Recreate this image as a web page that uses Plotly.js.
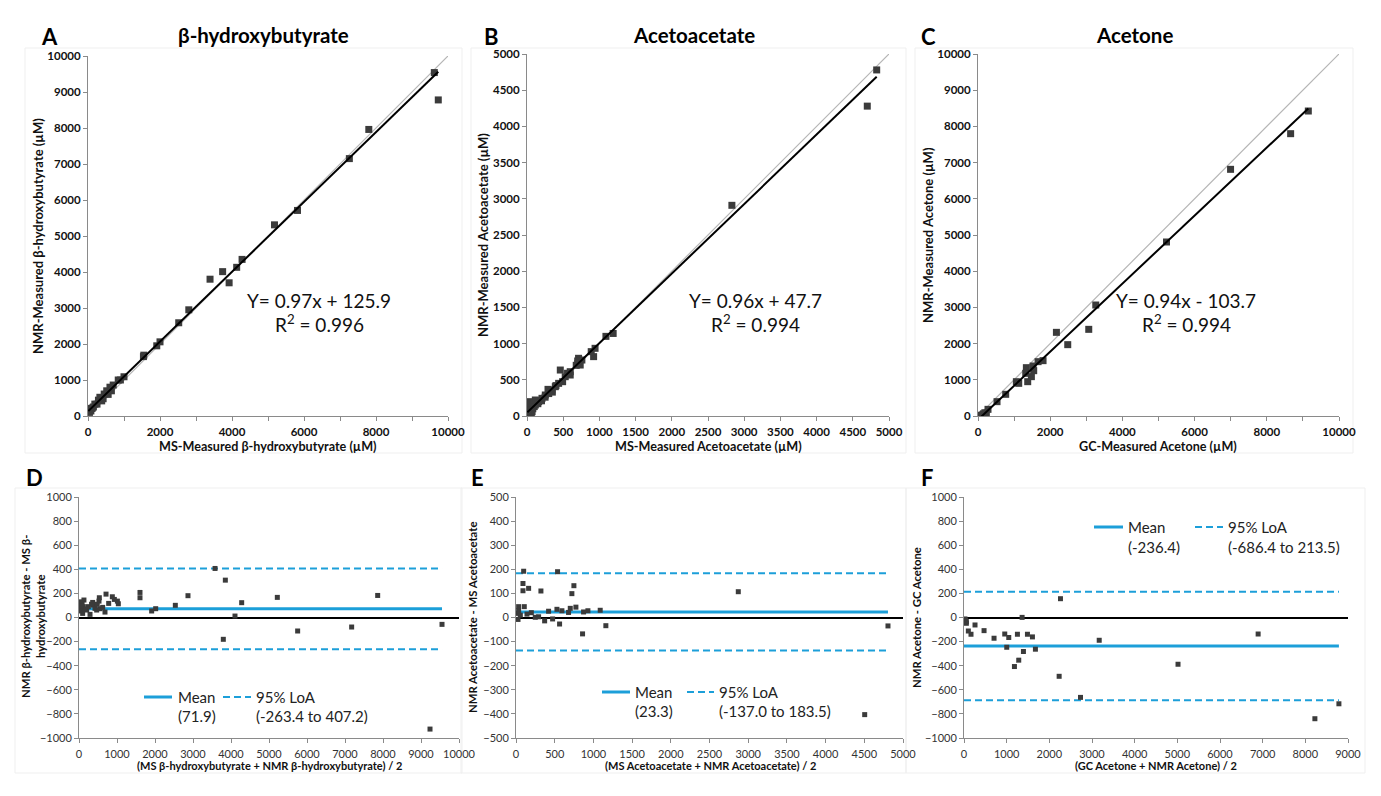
<!DOCTYPE html>
<html>
<head>
<meta charset="utf-8">
<script src="https://cdn.plot.ly/plotly-3.0.1.min.js"></script>
<style>html,body{margin:0;padding:0;background:#fff;}#chart{width:1381px;height:796px;}</style>
</head>
<body>
<div id="chart"></div>
<script>
// ---------------- DATA ----------------
// Panel A: β-hydroxybutyrate, MS vs NMR (µM)
const msBHB  = [9620, 9730, 7800, 7260, 5820, 5180, 4280, 4130, 3740, 3920, 3390, 2800, 2520, 2000, 1910, 1550, 1540, 1000, 840, 700, 610, 520, 450, 330, 290, 190, 100, 10, 20, 40, 60, 80, 50, 120, 150, 250, 380, 420, 560, 650, 900];
const nmrBHB = [9540, 8780, 7960, 7150, 5710, 5310, 4350, 4130, 4010, 3700, 3800, 2950, 2590, 2060, 1950, 1690, 1650, 1090, 1000, 860, 800, 700, 610, 520, 440, 330, 210, 120, 150, 100, 180, 140, 200, 220, 250, 330, 420, 480, 600, 700, 1000];
// Panel B: Acetoacetate, MS vs NMR (µM)
const msAcAc  = [4830, 4700, 2830, 1190, 1090, 940, 920, 887, 758, 712, 703, 735, 597, 528, 597, 460, 492, 437, 391, 345, 290, 253, 207, 161, 115, 115, 32, 46, 14, 10, 20, 30, 50, 60, 80, 100, 5, 40, 70, 150, 200, 250, 300, 350, 400, 680, 700, 560];
const nmrAcAc = [4780, 4280, 2910, 1140, 1100, 935, 820, 889, 773, 797, 727, 704, 566, 543, 612, 635, 474, 451, 405, 359, 368, 290, 244, 198, 152, 221, 198, 83, 37, 10, 60, 120, 150, 40, 100, 130, 180, 20, 60, 170, 210, 260, 310, 330, 420, 700, 760, 590];
// Panel C: Acetone, GC vs NMR (µM)
const gcAce  = [9150, 8660, 6996, 5222, 3262, 3068, 2486, 2172, 1802, 1664, 1525, 1543, 1479, 1377, 1340, 1322, 1128, 1063, 767, 527, 277, 231, 120, 46, 0, 20, 60, 80, 150, 190];
const nmrAce = [8425, 7799, 6814, 4807, 3066, 2394, 1971, 2311, 1529, 1501, 1381, 1252, 1087, 948, 1335, 1179, 902, 948, 599, 396, 184, 74, 28, 0, 0, 5, 10, 20, 60, 90];

// Regression fits (slope, intercept, R²) for A, B, C
const fitSlope     = [0.97, 0.96, 0.94];
const fitIntercept = [125.9, 47.7, -103.7];
const fitR2        = [0.996, 0.994, 0.994];

// Panel D: Bland-Altman β-hydroxybutyrate
const avgBHB  = [3580, 3851, 3798, 4105, 4281, 2868, 2535, 2018, 1912, 1605, 1605, 5219, 5754, 7175, 7860, 9553, 9237, 1035, 1010, 877, 711, 781, 684, 553, 526, 535, 377, 360, 290, 421, 202, 114, 70, 53, 96, 26, 130, 245, 465, 623, 40, 80, 150, 20, 60, 330, 930, 480];
const diffBHB = [407, 310, -181, 12, 123, 181, 101, 73, 54, 208, 164, 167, -112, -79, 183, -57, -926, 114, 136, 172, 194, 117, 45, 73, 136, 164, 103, 125, 26, 76, 62, 90, 125, 54, 34, 103, 145, 90, 62, 84, 80, 110, 70, 130, 95, 110, 150, 110];
// Panel E: Bland-Altman Acetoacetate
const avgAcAc  = [4806, 4505, 2872, 1161, 1088, 929, 873, 860, 774, 748, 722, 701, 679, 537, 529, 563, 593, 473, 421, 370, 322, 292, 249, 198, 163, 99, 90, 90, 107, 34, 13, 26, 34, 56, 142];
const diffAcAc = [-35, -403, 107, -34, 30, 28, 23, -68, 43, 132, 99, 38, 21, 190, 34, -27, 28, -6, 26, -14, 110, 3, 1, 20, 121, 192, 141, 111, 45, 45, 17, -8, 28, 10, 14];
// Panel F: Bland-Altman Acetone
const avgAce  = [8787, 8224, 6894, 5016, 3169, 2731, 2261, 2230, 1674, 1604, 1487, 1393, 1362, 1283, 1252, 1182, 1049, 1002, 955, 704, 470, 258, 164, 102, 55, 39, 23, 55];
const diffAce = [-716, -840, -137, -388, -189, -663, 156, -488, -263, -161, -139, -282, 1, -354, -139, -407, -166, -247, -137, -172, -109, -62, -139, -112, -48, -21, -12, -34];

// Bland-Altman summary: mean bias and 95% limits of agreement (D, E, F)
const meanBias = [71.9, 23.3, -236.4];
const loaLow   = [-263.4, -137.0, -686.4];
const loaHigh  = [407.2, 183.5, 213.5];

// Labels
const panelLetters = ['A', 'B', 'C', 'D', 'E', 'F'];
const panelTitles  = ['β-hydroxybutyrate', 'Acetoacetate', 'Acetone'];
const xTitlesTop = ['MS-Measured β-hydroxybutyrate (µM)', 'MS-Measured Acetoacetate (µM)', 'GC-Measured Acetone (µM)'];
const yTitlesTop = ['NMR-Measured β-hydroxybutyrate (µM)', 'NMR-Measured Acetoacetate (µM)', 'NMR-Measured Acetone (µM)'];
const xTitlesBot = ['(MS β-hydroxybutyrate + NMR β-hydroxybutyrate) / 2', '(MS Acetoacetate + NMR Acetoacetate) / 2', '(GC Acetone + NMR Acetone) / 2'];
const yTitlesBot = ['NMR β-hydroxybutyrate - MS β-<br>hydroxybutyrate', 'NMR Acetoacetate - MS Acetoacetate', 'NMR Acetone - GC Acetone'];
const legendMean = 'Mean';
const legendLoA  = '95% LoA';

// ---------------- LAYOUT HELPERS ----------------
const W = 1381, H = 796;
const fx = p => p / W;
const fy = p => 1 - p / H;
const FONT = 'Lato, "Open Sans", "DejaVu Sans", sans-serif';
const BLUE = '#1c9fd9';
const MARK = '#3b3b3b';
const AX = '#8a8a8a';

// plot boxes in pixels [left, top, right, bottom]
const boxes = [
  [88, 56, 448, 416],
  [527, 54, 889, 416],
  [978, 54, 1339, 416],
  [79, 497, 459, 738],
  [516, 497, 903, 738],
  [964, 497, 1348, 738]
];
const xRanges = [[0, 10000], [0, 5000], [0, 10000], [0, 10000], [0, 5000], [0, 9000]];
const yRanges = [[0, 10000], [0, 5000], [0, 10000], [-1000, 1000], [-500, 500], [-1000, 1000]];
const xDticks = [2000, 500, 2000, 1000, 500, 1000];
const xMinor  = [1000, null, 1000, null, null, null];
const yDticks = [1000, 500, 1000, 200, 100, 200];

const topX = [msBHB, msAcAc, gcAce];
const topY = [nmrBHB, nmrAcAc, nmrAce];
const botX = [avgBHB, avgAcAc, avgAce];
const botY = [diffBHB, diffAcAc, diffAce];

const traces = [];
const layout = {
  width: W, height: H,
  margin: {l: 0, r: 0, t: 0, b: 0},
  paper_bgcolor: '#fff', plot_bgcolor: '#fff',
  showlegend: false,
  font: {family: FONT, color: '#111'},
  annotations: [], shapes: []
};

for (let i = 0; i < 6; i++) {
  const b = boxes[i];
  const s = i === 0 ? '' : String(i + 1);
  const top = i < 3;
  const tf = {family: FONT, size: top ? 11.5 : 11, color: top ? '#111' : '#333', weight: top ? 'bold' : 'normal'};
  const xa = {
    domain: [fx(b[0]), fx(b[2])], range: xRanges[i], anchor: 'y' + s,
    showgrid: false, zeroline: false, showline: true, linecolor: AX, linewidth: 1,
    ticks: 'outside', ticklen: 4, tickcolor: AX, dtick: xDticks[i], tick0: 0,
    tickformat: 'd', tickfont: tf, ticklabelstandoff: top ? 1 : 2,
    fixedrange: true
  };
  if (xMinor[i]) xa.minor = {dtick: xMinor[i], ticks: 'outside', ticklen: 4, tickcolor: AX, showgrid: false};
  const ya = {
    domain: [fy(b[3]), fy(b[1])], range: yRanges[i], anchor: 'x' + s,
    showgrid: false, showline: true, linecolor: AX, linewidth: 1,
    ticks: 'outside', ticklen: 4, tickcolor: AX, dtick: yDticks[i], tick0: 0,
    tickformat: 'd', tickfont: tf,
    zeroline: !top, zerolinecolor: '#000', zerolinewidth: 2,
    fixedrange: true
  };
  layout['xaxis' + s] = xa;
  layout['yaxis' + s] = ya;
}

// ---- top panels ----
for (let i = 0; i < 3; i++) {
  const s = i === 0 ? '' : String(i + 1);
  const xs = topX[i], ys = topY[i];
  const xmax = xRanges[i][1];
  // identity line
  traces.push({x: [0, xmax], y: [0, xmax], xaxis: 'x' + s, yaxis: 'y' + s, mode: 'lines',
    line: {color: '#b5b5b5', width: 1.2}, hoverinfo: 'skip'});
  traces.push({x: xs, y: ys, xaxis: 'x' + s, yaxis: 'y' + s, mode: 'markers', type: 'scatter',
    marker: {symbol: 'square', size: 7, color: MARK, line: {width: 0}}});
  const x0 = Math.min(...xs), x1 = Math.max(...xs);
  traces.push({x: [x0, x1], y: [fitSlope[i] * x0 + fitIntercept[i], fitSlope[i] * x1 + fitIntercept[i]],
    xaxis: 'x' + s, yaxis: 'y' + s, mode: 'lines', line: {color: '#000', width: 2}, hoverinfo: 'skip'});
}

// ---- bottom panels ----
for (let i = 0; i < 3; i++) {
  const s = String(i + 4);
  const xs = botX[i], ys = botY[i];
  const x0 = 0, x1 = Math.max(...xs);
  traces.push({x: [x0, x1], y: [loaHigh[i], loaHigh[i]], xaxis: 'x' + s, yaxis: 'y' + s, mode: 'lines',
    line: {color: BLUE, width: 2, dash: '7px,4px'}, hoverinfo: 'skip'});
  traces.push({x: [x0, x1], y: [loaLow[i], loaLow[i]], xaxis: 'x' + s, yaxis: 'y' + s, mode: 'lines',
    line: {color: BLUE, width: 2, dash: '7px,4px'}, hoverinfo: 'skip'});
  traces.push({x: [x0, x1], y: [meanBias[i], meanBias[i]], xaxis: 'x' + s, yaxis: 'y' + s, mode: 'lines',
    line: {color: BLUE, width: 3}, hoverinfo: 'skip'});
  traces.push({x: xs, y: ys, xaxis: 'x' + s, yaxis: 'y' + s, mode: 'markers', type: 'scatter',
    marker: {symbol: 'square', size: 5, color: MARK, line: {width: 0}}});
}

// ---- text annotations ----
const A = layout.annotations;
function txt(text, x, y, opts) {
  A.push(Object.assign({text: text, x: fx(x), y: fy(y), xref: 'paper', yref: 'paper', showarrow: false,
    xanchor: 'center', yanchor: 'middle', font: {family: FONT, size: 12, color: '#111'}}, opts || {}));
}
// panel letters
const letterPos = [[49, 37], [491, 37], [928, 37], [34, 477], [477, 477], [927, 477]];
panelLetters.forEach((L, k) => txt(L, letterPos[k][0], letterPos[k][1], {font: {family: FONT, size: 22, weight: 'bold', color: '#000'}}));
// panel titles
const titlePos = [[263, 35], [694, 35], [1134, 35]];
panelTitles.forEach((t, k) => txt(t, titlePos[k][0], titlePos[k][1], {font: {family: FONT, size: 20.5, weight: 'bold', color: '#000'}}));
// top axis titles
const xtPos = [[268, 446], [708, 446], [1158, 446]];
const ytPos = [[38, 236], [483, 235], [928, 235]];
for (let k = 0; k < 3; k++) {
  txt(xTitlesTop[k], xtPos[k][0], xtPos[k][1], {font: {family: FONT, size: 12.6, weight: 'bold', color: '#111'}});
  txt(yTitlesTop[k], ytPos[k][0], ytPos[k][1], {textangle: -90, font: {family: FONT, size: 13, weight: 'bold', color: '#111'}});
}
// equations
const eqPos = [[319, 300], [755, 300], [1186, 300]];
for (let k = 0; k < 3; k++) {
  const sign = fitIntercept[k] < 0 ? '-' : '+';
  const eq = 'Y= ' + fitSlope[k].toFixed(2) + 'x ' + sign + ' ' + Math.abs(fitIntercept[k]).toFixed(1);
  txt(eq, eqPos[k][0], eqPos[k][1], {font: {family: FONT, size: 19, color: '#111'}});
  txt('R<sup>2</sup> = ' + fitR2[k].toFixed(3), eqPos[k][0], eqPos[k][1] + 23, {font: {family: FONT, size: 19, color: '#111'}});
}
// bottom axis titles
const xbPos = [[269, 765], [710, 765], [1156, 765]];
const ybPos = [[33, 617], [472, 617], [916, 618]];
for (let k = 0; k < 3; k++) {
  txt(xTitlesBot[k], xbPos[k][0], xbPos[k][1], {font: {family: FONT, size: 11, weight: 'bold', color: '#111'}});
  txt(yTitlesBot[k], ybPos[k][0], ybPos[k][1], {textangle: -90, font: {family: FONT, size: 11.3, weight: 'bold', color: '#111'}});
}
// custom legends for Bland-Altman panels
// [solidStart, solidEnd, meanTextX, dashStart, dashEnd, loaTextX, lineY, line2Y]
const legPos = [
  [144, 172, 176, 223, 251, 254, 697, 716],
  [602, 630, 633, 687, 714, 717, 692, 711],
  [1094, 1123, 1126, 1195, 1223, 1226, 527, 547]
];
for (let k = 0; k < 3; k++) {
  const p = legPos[k];
  layout.shapes.push({type: 'line', xref: 'paper', yref: 'paper', x0: fx(p[0]), x1: fx(p[1]), y0: fy(p[6]), y1: fy(p[6]),
    line: {color: BLUE, width: 3}});
  layout.shapes.push({type: 'line', xref: 'paper', yref: 'paper', x0: fx(p[3]), x1: fx(p[4]), y0: fy(p[6]), y1: fy(p[6]),
    line: {color: BLUE, width: 2, dash: '7px,4px'}});
  const lf = {family: FONT, size: 15, color: '#222'};
  txt(legendMean, p[2], p[6], {xanchor: 'left', font: lf});
  txt('(' + meanBias[k].toFixed(1) + ')', p[2], p[7], {xanchor: 'left', font: lf});
  txt(legendLoA, p[5], p[6], {xanchor: 'left', font: lf});
  txt('(' + loaLow[k].toFixed(1) + ' to ' + loaHigh[k].toFixed(1) + ')', p[5], p[7], {xanchor: 'left', font: lf});
}
// faint chart-area frames
const frames = [[25, 48, 462, 453], [471, 48, 906, 453], [915, 48, 1353, 453], [15, 488, 462, 773], [461, 488, 906, 773], [906, 488, 1365, 773]];
frames.forEach(f => layout.shapes.push({type: 'rect', xref: 'paper', yref: 'paper', x0: fx(f[0]), x1: fx(f[2]), y0: fy(f[3]), y1: fy(f[1]),
  line: {color: '#efefef', width: 1}, layer: 'below'}));

Plotly.newPlot('chart', traces, layout, {staticPlot: true, displayModeBar: false});
</script>
</body>
</html>
